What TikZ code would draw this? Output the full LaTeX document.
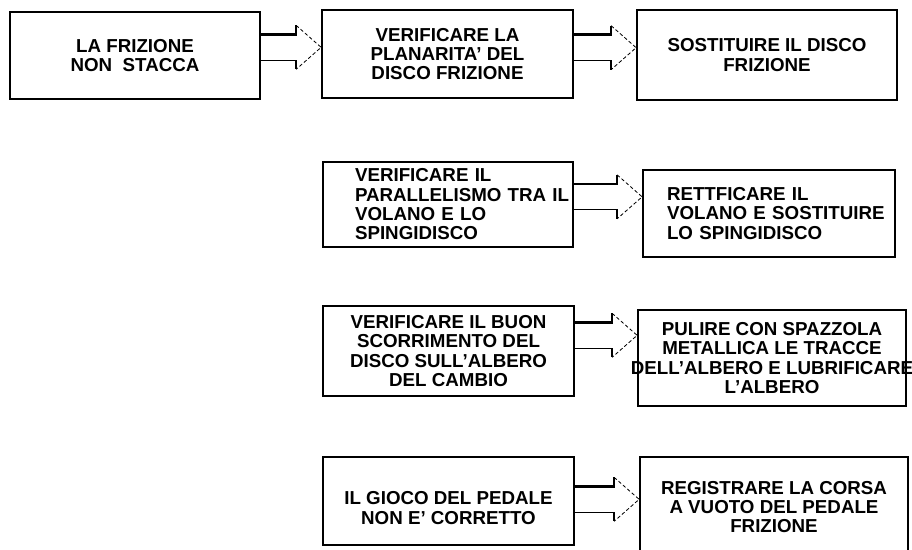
\documentclass[tikz,border=0pt]{standalone}
\usepackage{fontspec}
\setmainfont{Liberation Sans}
\usetikzlibrary{positioning,calc}

\begin{document}
\begin{tikzpicture}[
    box/.style={draw, rectangle, line width=1.5pt, align=center, inner sep=2pt, font=\bfseries\fontsize{16}{16.5}\selectfont},
    leftbox/.style={box, align=left},
    shaft/.style={line width=2pt},
    shaftlow/.style={line width=1.1pt},
    head/.style={line width=0.7pt, densely dashed}
]
\useasboundingbox (0,0) rectangle (27.36,-16.47);

% Fault
\node[box, minimum width=7.5cm, minimum height=2.61cm] (frizione) at (4.05,-1.665) {LA FRIZIONE\\NON\ \ STACCA};

% Checks
\node[box, minimum width=7.53cm, minimum height=2.64cm] (planarita) at (13.425,-1.62) {VERIFICARE LA\\PLANARITA' DEL\\DISCO FRIZIONE};
\node[leftbox, text width=5.58cm, minimum width=7.5cm, minimum height=2.55cm] (parallel) at (13.44,-6.135) {VERIFICARE IL\\\mbox{PARALLELISMO TRA IL}\\VOLANO E LO\\SPINGIDISCO};
\node[box, minimum width=7.53cm, minimum height=2.7cm] (scorrimento) at (13.455,-10.53) {VERIFICARE IL BUON\\SCORRIMENTO DEL\\DISCO SULL'ALBERO\\DEL CAMBIO};
\node[box, minimum width=7.53cm, minimum height=2.64cm, text height=1.4cm] (gioco) at (13.455,-15.03) {IL GIOCO DEL PEDALE\\NON E' CORRETTO};

% Remedies
\node[box, minimum width=7.8cm, minimum height=2.7cm] (sostituire) at (23.01,-1.65) {SOSTITUIRE IL DISCO\\FRIZIONE};
\node[leftbox, text width=6.12cm, minimum width=7.56cm, minimum height=2.61cm] (rettificare) at (23.07,-6.405) {RETTFICARE IL\\\mbox{VOLANO E SOSTITUIRE}\\LO SPINGIDISCO};
\node[box, minimum width=8.04cm, minimum height=2.88cm] (pulire) at (23.16,-10.74) {PULIRE CON SPAZZOLA\\METALLICA LE TRACCE\\\makebox[7.6cm]{DELL'ALBERO E LUBRIFICARE}\\L'ALBERO};
\node[box, minimum width=8.04cm, minimum height=3cm] (registrare) at (23.22,-15.21) {REGISTRARE LA CORSA\\A VUOTO DEL PEDALE\\FRIZIONE};

% Arrows
\coordinate (t1) at ($(planarita.west)+(0,0.2)$);
\draw[shaft] (frizione.east |- t1) ++(0,0.39) -- ($(t1)+(-0.75,0.39)$) -- ++(0,0.27);
\draw[shaftlow] (frizione.east |- t1) ++(0,-0.39) -- ($(t1)+(-0.75,-0.39)$) -- ++(0,-0.27);
\draw[head] ($(t1)+(-0.75,0.66)$) -- (t1) -- ($(t1)+(-0.75,-0.66)$);

\coordinate (t2) at ($(sostituire.west)+(0,0.22)$);
\draw[shaft] (planarita.east |- t2) ++(0,0.39) -- ($(t2)+(-0.75,0.39)$) -- ++(0,0.27);
\draw[shaftlow] (planarita.east |- t2) ++(0,-0.39) -- ($(t2)+(-0.75,-0.39)$) -- ++(0,-0.27);
\draw[head] ($(t2)+(-0.75,0.66)$) -- (t2) -- ($(t2)+(-0.75,-0.66)$);

\coordinate (t3) at ($(rettificare.west)+(0,0.5)$);
\draw[shaft] (parallel.east |- t3) ++(0,0.39) -- ($(t3)+(-0.75,0.39)$) -- ++(0,0.27);
\draw[shaftlow] (parallel.east |- t3) ++(0,-0.39) -- ($(t3)+(-0.75,-0.39)$) -- ++(0,-0.27);
\draw[head] ($(t3)+(-0.75,0.66)$) -- (t3) -- ($(t3)+(-0.75,-0.66)$);

\coordinate (t4) at ($(pulire.west)+(0,0.68)$);
\draw[shaft] (scorrimento.east |- t4) ++(0,0.39) -- ($(t4)+(-0.75,0.39)$) -- ++(0,0.27);
\draw[shaftlow] (scorrimento.east |- t4) ++(0,-0.39) -- ($(t4)+(-0.75,-0.39)$) -- ++(0,-0.27);
\draw[head] ($(t4)+(-0.75,0.66)$) -- (t4) -- ($(t4)+(-0.75,-0.66)$);

\coordinate (t5) at ($(registrare.west |- gioco.center)+(0,0.05)$);
\draw[shaft] (gioco.east |- t5) ++(0,0.39) -- ($(t5)+(-0.75,0.39)$) -- ++(0,0.27);
\draw[shaftlow] (gioco.east |- t5) ++(0,-0.39) -- ($(t5)+(-0.75,-0.39)$) -- ++(0,-0.27);
\draw[head] ($(t5)+(-0.75,0.66)$) -- (t5) -- ($(t5)+(-0.75,-0.66)$);

\end{tikzpicture}
\end{document}
